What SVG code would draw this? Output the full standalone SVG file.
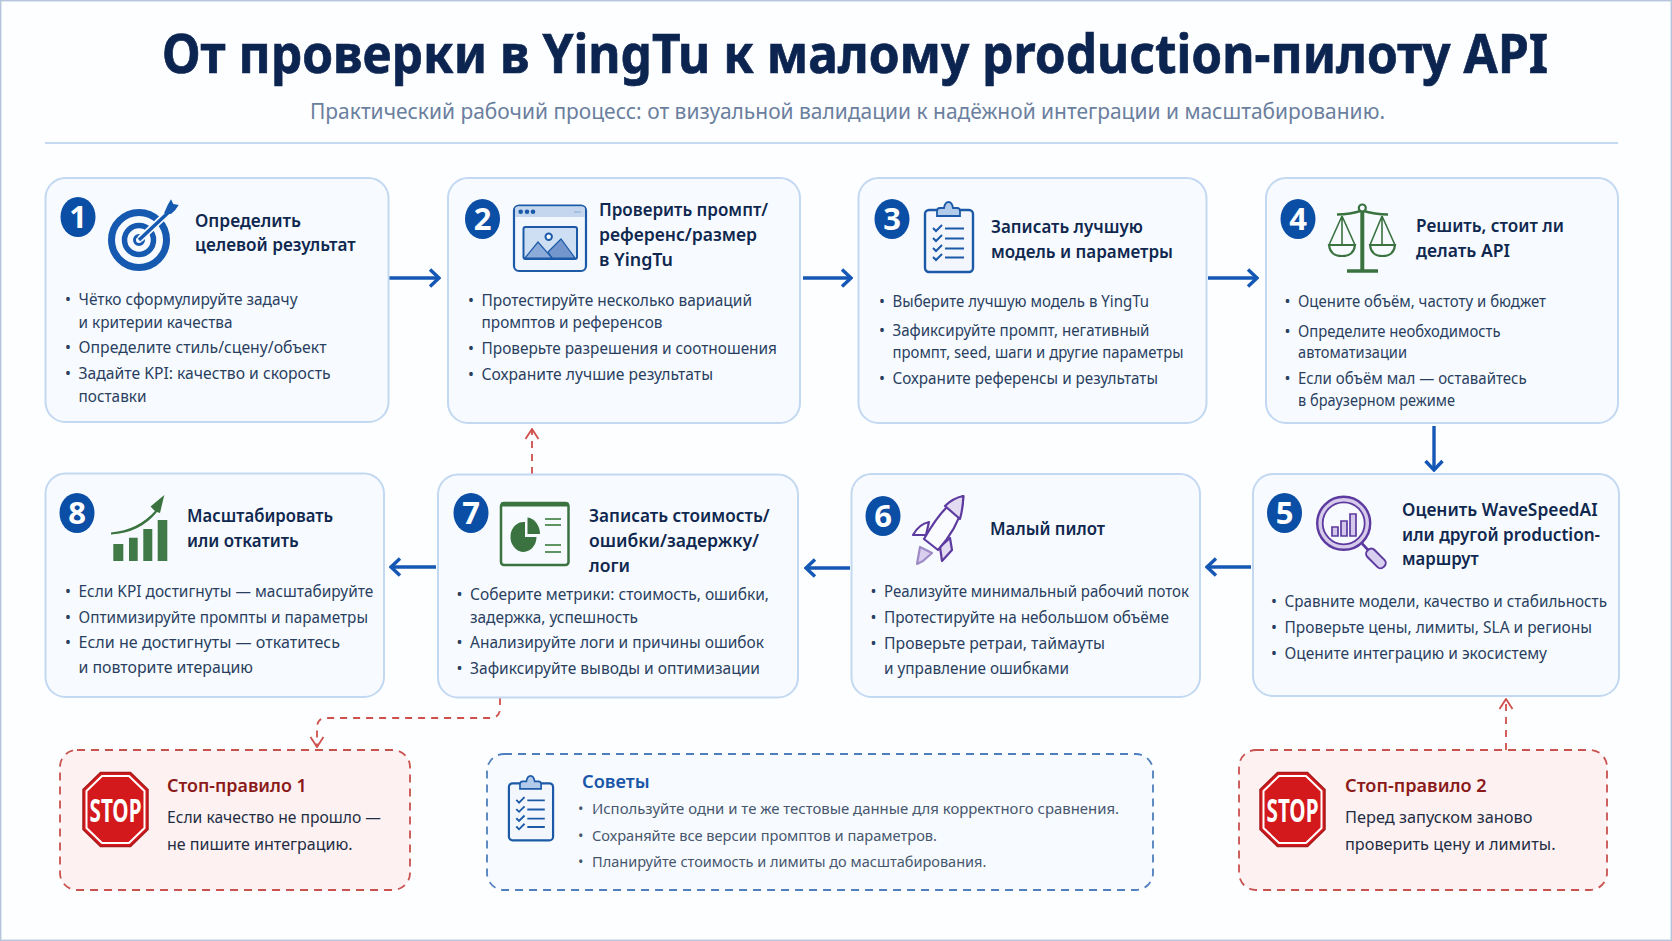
<svg xmlns="http://www.w3.org/2000/svg" width="1672" height="941" viewBox="0 0 1672 941">
<style>
text{font-family:"Noto Sans","Open Sans","Liberation Sans",sans-serif}
.card{fill:#f7fbff;stroke:#c3d8f1;stroke-width:2}
.badge{fill:#0b4ea6}
.num{fill:#fff;font-size:31px;font-weight:700;text-anchor:middle}
.h{fill:#10284f;font-size:18.5px;font-weight:600}
.b{fill:#2a3f5f;font-size:15.8px}
.st{fill:#8b1a1a;font-size:18.5px;font-weight:600}
.sb{fill:#1f2d45;font-size:16px}
.tt{fill:#1a56a8;font-size:18.5px;font-weight:600}
.tb{fill:#46566e;font-size:14.5px}
.stopbox{fill:#fdf2f1;stroke:#c9524f;stroke-width:1.8;stroke-dasharray:8 6}
.tipbox{fill:#f7fbff;stroke:#4f7fbd;stroke-width:1.8;stroke-dasharray:8 6}
.flow{fill:none;stroke:#1557b5;stroke-width:3.4}
.red{fill:none;stroke:#cf4f4c;stroke-width:1.8;stroke-dasharray:7 6}
.grn{fill:none;stroke:#3a7340;stroke-width:2.2}
</style>
<defs>
<marker id="ah" viewBox="0 0 14 20" refX="12" refY="10" markerWidth="14" markerHeight="20" markerUnits="userSpaceOnUse" orient="auto"><path d="M3 1.500 L12 10 L3 18.500" fill="none" stroke="#1557b5" stroke-width="3.400"/></marker>
<marker id="rh" viewBox="0 0 14 16" refX="13" refY="8" markerWidth="14" markerHeight="16" markerUnits="userSpaceOnUse" orient="auto"><path d="M3 1.500 L13 8 L3 14.500" fill="none" stroke="#cf4f4c" stroke-width="1.800"/></marker>
<g id="clip">
<rect x="1" y="9" width="48" height="62" rx="4" fill="#f3f7fd" stroke="#1c5aa8" stroke-width="2.400"/>
<path d="M13 15V10q0-3 3-3h4q1-6 4.500-6t4.500 6h4q3 0 3 3v5z" fill="#b3cbea" stroke="#1c5aa8" stroke-width="1.800"/>
<path d="M9 27l3 3 6-6M9 37l3 3 6-6M9 47l3 3 6-6M9 56l3 3 6-6" fill="none" stroke="#1c5aa8" stroke-width="2"/>
<path d="M21 27.500H40M21 37.500H40M21 47.500H40M21 56.500H40" fill="none" stroke="#1c5aa8" stroke-width="2"/>
</g>
<g id="stop">
<path d="M-15 -37H15L32.500 -20V20L15 37H-15L-32.500 20V-20Z" fill="#d3191c" stroke="#a81a1c" stroke-width="1.500"/>
<path d="M-13.500 -33.500H13.500L29 -18.500V18.500L13.500 33.500H-13.500L-29 18.500V-18.500Z" fill="none" stroke="#fff" stroke-width="2"/>
<text x="0" y="12" text-anchor="middle" fill="#fff" font-size="32" font-weight="700" textLength="52" lengthAdjust="spacingAndGlyphs">STOP</text>
</g>
</defs>
<rect width="1672" height="941" fill="#fdfeff"/>
<rect x="0.700" y="0.700" width="1670.600" height="939.600" fill="none" stroke="#b6c5dc" stroke-width="1.400"/>
<g id="header">
<text x="162" y="72.500" fill="#0c2450" stroke="#0c2450" stroke-width="0.700" font-size="53" font-weight="700" textLength="1386" lengthAdjust="spacingAndGlyphs">От проверки в YingTu к малому production-пилоту API</text>
<text x="310" y="119" fill="#6b7f9e" font-size="22.500" textLength="1075" lengthAdjust="spacingAndGlyphs">Практический рабочий процесс: от визуальной валидации к надёжной интеграции и масштабированию.</text>
<path d="M45 143H1618" stroke="#c5d9f0" stroke-width="1.800"/>
</g>
<g id="connectors">
<path class="flow" d="M389 278H439" marker-end="url(#ah)"/>
<path class="flow" d="M803 278H851" marker-end="url(#ah)"/>
<path class="flow" d="M1208 278H1257" marker-end="url(#ah)"/>
<path class="flow" d="M1434 426V470" marker-end="url(#ah)"/>
<path class="flow" d="M1251 567H1207" marker-end="url(#ah)"/>
<path class="flow" d="M850 568H806" marker-end="url(#ah)"/>
<path class="flow" d="M436 567H391" marker-end="url(#ah)"/>
<path class="red" d="M532 474V429" marker-end="url(#rh)"/>
<path class="red" d="M500 698V708Q500 718 490 718H326Q317 718 317 728V747" marker-end="url(#rh)"/>
<path class="red" d="M1506 750V699" marker-end="url(#rh)"/>
</g>
<g id="node-1">
<rect class="card" x="45.500" y="178" width="343" height="244" rx="20"/>
<ellipse class="badge" cx="78" cy="217" rx="17.500" ry="20"/><text class="num" x="78" y="228">1</text>
<g fill="none" stroke="#1559b0">
<circle cx="139" cy="240" r="27.500" stroke-width="7"/>
<circle cx="139" cy="240" r="14.500" stroke-width="5.500"/>
<circle cx="139" cy="240" r="4.500" stroke-width="3"/>
<path d="M140 239L173 208" stroke="#f7fbff" stroke-width="7"/>
<path d="M139 240L171 210" stroke-width="3.500"/>
</g>
<path d="M164 213.300L167.700 205L171 199.300L173.300 204L178.700 205L175.300 210L171 214Z" fill="#1559b0"/>
<text class="h" x="195" y="227" textLength="106" lengthAdjust="spacingAndGlyphs">Определить</text>
<text class="h" x="195" y="251" textLength="160.700" lengthAdjust="spacingAndGlyphs">целевой результат</text>
<text class="b" x="65" y="305">•</text><text class="b" x="78.500" y="305" textLength="219" lengthAdjust="spacingAndGlyphs">Чётко сформулируйте задачу</text>
<text class="b" x="78.500" y="328" textLength="154" lengthAdjust="spacingAndGlyphs">и критерии качества</text>
<text class="b" x="65" y="353">•</text><text class="b" x="78.500" y="353" textLength="248" lengthAdjust="spacingAndGlyphs">Определите стиль/сцену/объект</text>
<text class="b" x="65" y="379">•</text><text class="b" x="78.500" y="379" textLength="252" lengthAdjust="spacingAndGlyphs">Задайте KPI: качество и скорость</text>
<text class="b" x="78.500" y="402" textLength="68" lengthAdjust="spacingAndGlyphs">поставки</text>
</g>
<g id="node-2">
<rect class="card" x="448" y="178" width="352" height="245" rx="20"/>
<ellipse class="badge" cx="482.500" cy="219" rx="17.500" ry="20"/><text class="num" x="482.500" y="230">2</text>
<rect x="514" y="205.500" width="72" height="65.500" rx="5" fill="#f2f7fd" stroke="#1c5aa8" stroke-width="2.200"/>
<path d="M515 217V209q0-2.500 2.500-2.500h65q2.500 0 2.500 2.500v8z" fill="#c3d6ee"/>
<circle cx="520.700" cy="211.700" r="2.300" fill="#1c5aa8"/><circle cx="527" cy="211.700" r="2.300" fill="#1c5aa8"/><circle cx="533" cy="211.700" r="2.300" fill="#1c5aa8"/>
<path d="M574 212H581" stroke="#9db9de" stroke-width="1.500"/>
<rect x="523.500" y="227" width="53.500" height="32" rx="2" fill="#cfdff3" stroke="#1c5aa8" stroke-width="2"/>
<path d="M548 252L561 239L575 258H552Z" fill="#7397cc" stroke="#1c5aa8" stroke-width="1.200"/>
<path d="M525 258L538 242L552 258Z" fill="#8dabd8" stroke="#1c5aa8" stroke-width="1.200"/>
<circle cx="548.700" cy="236.700" r="3.200" fill="#fff" stroke="#1c5aa8" stroke-width="2"/>
<text class="h" x="599" y="216" textLength="169" lengthAdjust="spacingAndGlyphs">Проверить промпт/</text>
<text class="h" x="599" y="241" textLength="158" lengthAdjust="spacingAndGlyphs">референс/размер</text>
<text class="h" x="599" y="266" textLength="74" lengthAdjust="spacingAndGlyphs">в YingTu</text>
<text class="b" x="468" y="306">•</text><text class="b" x="481.500" y="306" textLength="270.500" lengthAdjust="spacingAndGlyphs">Протестируйте несколько вариаций</text>
<text class="b" x="481.500" y="328" textLength="181" lengthAdjust="spacingAndGlyphs">промптов и референсов</text>
<text class="b" x="468" y="354">•</text><text class="b" x="481.500" y="354" textLength="295.500" lengthAdjust="spacingAndGlyphs">Проверьте разрешения и соотношения</text>
<text class="b" x="468" y="380">•</text><text class="b" x="481.500" y="380" textLength="231.500" lengthAdjust="spacingAndGlyphs">Сохраните лучшие результаты</text>
</g>
<g id="node-3">
<rect class="card" x="858.500" y="178" width="348" height="245" rx="20"/>
<ellipse class="badge" cx="892" cy="219" rx="17.500" ry="20"/><text class="num" x="892" y="230">3</text>
<use href="#clip" transform="translate(924 201)"/>
<text class="h" x="991" y="233" textLength="152" lengthAdjust="spacingAndGlyphs">Записать лучшую</text>
<text class="h" x="991" y="258" textLength="182" lengthAdjust="spacingAndGlyphs">модель и параметры</text>
<text class="b" x="879" y="307">•</text><text class="b" x="892.500" y="307" textLength="256.500" lengthAdjust="spacingAndGlyphs">Выберите лучшую модель в YingTu</text>
<text class="b" x="879" y="336">•</text><text class="b" x="892.500" y="336" textLength="257" lengthAdjust="spacingAndGlyphs">Зафиксируйте промпт, негативный</text>
<text class="b" x="892.500" y="358" textLength="291" lengthAdjust="spacingAndGlyphs">промпт, seed, шаги и другие параметры</text>
<text class="b" x="879" y="384">•</text><text class="b" x="892.500" y="384" textLength="265.500" lengthAdjust="spacingAndGlyphs">Сохраните референсы и результаты</text>
</g>
<g id="node-4">
<rect class="card" x="1266" y="178" width="352" height="245" rx="20"/>
<ellipse class="badge" cx="1298" cy="219" rx="17.500" ry="20"/><text class="num" x="1298" y="230">4</text>
<g class="grn">
<path d="M1362.300 207V270" stroke-width="4"/><path d="M1347 271H1378" stroke-width="3.500"/>
<path d="M1337 214.500Q1350 214.500 1362 210.500Q1375 214.500 1388 214.500" stroke-width="2.600"/>
<circle cx="1362.300" cy="208" r="3.500" fill="#f7fbff"/>
<path d="M1342 216L1329 245M1342 216L1355 245M1342 216V245M1382 216L1370 245M1382 216L1395 245M1382 216V245" stroke-width="1.600"/>
<path d="M1329 245H1355Q1354 256 1342 256Q1330 256 1329 245ZM1370 245H1395Q1394 256 1382.500 256Q1371 256 1370 245Z"/>
</g>
<text class="h" x="1416" y="232" textLength="148" lengthAdjust="spacingAndGlyphs">Решить, стоит ли</text>
<text class="h" x="1416" y="257" textLength="94" lengthAdjust="spacingAndGlyphs">делать API</text>
<text class="b" x="1284.500" y="307">•</text><text class="b" x="1298" y="307" textLength="248" lengthAdjust="spacingAndGlyphs">Оцените объём, частоту и бюджет</text>
<text class="b" x="1284.500" y="337">•</text><text class="b" x="1298" y="337" textLength="202.500" lengthAdjust="spacingAndGlyphs">Определите необходимость</text>
<text class="b" x="1298" y="358" textLength="109" lengthAdjust="spacingAndGlyphs">автоматизации</text>
<text class="b" x="1284.500" y="384">•</text><text class="b" x="1298" y="384" textLength="228.700" lengthAdjust="spacingAndGlyphs">Если объём мал — оставайтесь</text>
<text class="b" x="1298" y="406" textLength="157" lengthAdjust="spacingAndGlyphs">в браузерном режиме</text>
</g>
<g id="node-5">
<rect class="card" x="1253" y="474" width="366" height="222" rx="20"/>
<ellipse class="badge" cx="1284.500" cy="513" rx="17.500" ry="20"/><text class="num" x="1284.500" y="524">5</text>
<circle cx="1343.700" cy="523.300" r="24" fill="#f7fbff" stroke="#d7cbec" stroke-width="6"/>
<circle cx="1343.700" cy="523.300" r="26.500" fill="none" stroke="#5d3a9f" stroke-width="2.400"/>
<circle cx="1343.700" cy="523.300" r="21" fill="none" stroke="#5d3a9f" stroke-width="1.800"/>
<path d="M1332 536V527h6v9zM1341 536V521h6v15zM1350 536V514h6v22z" fill="#d4c8ea" stroke="#5d3a9f" stroke-width="1.700"/>
<path d="M1362 543.500L1369 551" stroke="#5d3a9f" stroke-width="2.600"/>
<rect x="-5" y="-1" width="10" height="23" rx="4.500" transform="translate(1368.500 551) rotate(-45)" fill="#d9cfee" stroke="#5d3a9f" stroke-width="2"/>
<text class="h" x="1402" y="516" textLength="195.600" lengthAdjust="spacingAndGlyphs">Оценить WaveSpeedAI</text>
<text class="h" x="1402" y="541" textLength="198" lengthAdjust="spacingAndGlyphs">или другой production-</text>
<text class="h" x="1402" y="565" textLength="76.700" lengthAdjust="spacingAndGlyphs">маршрут</text>
<text class="b" x="1271" y="607">•</text><text class="b" x="1284.500" y="607" textLength="322.500" lengthAdjust="spacingAndGlyphs">Сравните модели, качество и стабильность</text>
<text class="b" x="1271" y="633">•</text><text class="b" x="1284.500" y="633" textLength="307.500" lengthAdjust="spacingAndGlyphs">Проверьте цены, лимиты, SLA и регионы</text>
<text class="b" x="1271" y="659">•</text><text class="b" x="1284.500" y="659" textLength="262.500" lengthAdjust="spacingAndGlyphs">Оцените интеграцию и экосистему</text>
</g>
<g id="node-6">
<rect class="card" x="851.500" y="474" width="348.500" height="223" rx="20"/>
<ellipse class="badge" cx="883" cy="516" rx="17.500" ry="20"/><text class="num" x="883" y="527">6</text>
<g fill="#f9fbff" stroke="#5d3a9f" stroke-width="2.200" stroke-linejoin="round">
<path d="M929 522Q919 524 913 535L926 535Z"/>
<path d="M950 538L952 550L942 561L940 547Z" fill="#e3dbf2"/>
<path d="M920 547L917 564L923 561L932 553Z" fill="#d9cfee" stroke="#9f8ac8"/>
<path d="M963.300 496Q945 502 924 539L938 550Q963 522 963.300 496Z"/>
<path d="M945 506Q953 498 963.300 496Q963 508 960 519Z" fill="#e3dbf2"/>
</g>
<text class="h" x="990" y="535" textLength="115" lengthAdjust="spacingAndGlyphs">Малый пилот</text>
<text class="b" x="870.500" y="597">•</text><text class="b" x="884" y="597" textLength="305" lengthAdjust="spacingAndGlyphs">Реализуйте минимальный рабочий поток</text>
<text class="b" x="870.500" y="623">•</text><text class="b" x="884" y="623" textLength="285" lengthAdjust="spacingAndGlyphs">Протестируйте на небольшом объёме</text>
<text class="b" x="870.500" y="649">•</text><text class="b" x="884" y="649" textLength="221" lengthAdjust="spacingAndGlyphs">Проверьте ретраи, таймауты</text>
<text class="b" x="884" y="674" textLength="185" lengthAdjust="spacingAndGlyphs">и управление ошибками</text>
</g>
<g id="node-7">
<rect class="card" x="438" y="474.500" width="360" height="223" rx="20"/>
<ellipse class="badge" cx="471" cy="513" rx="17.500" ry="20"/><text class="num" x="471" y="524">7</text>
<rect x="501" y="503" width="67.500" height="62" rx="3" fill="#f7fbff" stroke="#3a7340" stroke-width="2.500"/>
<path d="M501 504.500H568.500" stroke="#3a7340" stroke-width="4"/>
<path d="M525 522A13 15 0 1 0 536.500 537H525Z" fill="#3a7340"/>
<path d="M527.500 517.500A14 16.500 0 0 1 540 534H527.500Z" fill="#3a7340"/>
<path d="M545 519H561M545 525H561M545 545H561M545 552H561" stroke="#5f9463" stroke-width="2.200"/>
<text class="h" x="589" y="522" textLength="180.600" lengthAdjust="spacingAndGlyphs">Записать стоимость/</text>
<text class="h" x="589" y="547" textLength="170" lengthAdjust="spacingAndGlyphs">ошибки/задержку/</text>
<text class="h" x="589" y="572" textLength="41" lengthAdjust="spacingAndGlyphs">логи</text>
<text class="b" x="456.500" y="600">•</text><text class="b" x="470" y="600" textLength="299" lengthAdjust="spacingAndGlyphs">Соберите метрики: стоимость, ошибки,</text>
<text class="b" x="470" y="623" textLength="168" lengthAdjust="spacingAndGlyphs">задержка, успешность</text>
<text class="b" x="456.500" y="648">•</text><text class="b" x="470" y="648" textLength="294" lengthAdjust="spacingAndGlyphs">Анализируйте логи и причины ошибок</text>
<text class="b" x="456.500" y="674">•</text><text class="b" x="470" y="674" textLength="290" lengthAdjust="spacingAndGlyphs">Зафиксируйте выводы и оптимизации</text>
</g>
<g id="node-8">
<rect class="card" x="45.500" y="473.500" width="338.500" height="223.500" rx="20"/>
<ellipse class="badge" cx="77" cy="513" rx="17.500" ry="20"/><text class="num" x="77" y="524">8</text>
<path d="M113.300 561V544H123.300V561ZM129 561V537.700H137.700V561ZM143.300 561V529H152.300V561ZM157.700 561V520H167.300V561Z" fill="#3f7a47"/>
<path d="M111 532.500Q138 530 155 511L150.500 506.500L164.300 495L160 513L157 512Q140 533 111 534.500Z" fill="#3a7340"/>
<text class="h" x="187" y="522" textLength="146" lengthAdjust="spacingAndGlyphs">Масштабировать</text>
<text class="h" x="187" y="547" textLength="111.700" lengthAdjust="spacingAndGlyphs">или откатить</text>
<text class="b" x="65" y="597">•</text><text class="b" x="78.500" y="597" textLength="294.800" lengthAdjust="spacingAndGlyphs">Если KPI достигнуты — масштабируйте</text>
<text class="b" x="65" y="623">•</text><text class="b" x="78.500" y="623" textLength="289.500" lengthAdjust="spacingAndGlyphs">Оптимизируйте промпты и параметры</text>
<text class="b" x="65" y="648">•</text><text class="b" x="78.500" y="648" textLength="261.500" lengthAdjust="spacingAndGlyphs">Если не достигнуты — откатитесь</text>
<text class="b" x="78.500" y="673" textLength="174.500" lengthAdjust="spacingAndGlyphs">и повторите итерацию</text>
</g>
<g id="stop-1">
<rect class="stopbox" x="60" y="750" width="350" height="140" rx="17"/>
<use href="#stop" transform="translate(115.500 809.500)"/>
<text class="st" x="167" y="792" textLength="139.700" lengthAdjust="spacingAndGlyphs">Стоп-правило 1</text>
<text class="sb" x="167" y="823" textLength="214" lengthAdjust="spacingAndGlyphs">Если качество не прошло —</text>
<text class="sb" x="167" y="850" textLength="185.500" lengthAdjust="spacingAndGlyphs">не пишите интеграцию.</text>
</g>
<g id="tips">
<rect class="tipbox" x="487" y="754" width="666" height="136" rx="17"/>
<use href="#clip" transform="translate(508 775) scale(.92)"/>
<text class="tt" x="582" y="788" textLength="67.600" lengthAdjust="spacingAndGlyphs">Советы</text>
<text class="tb" x="578" y="814">•</text><text class="tb" x="592" y="814" textLength="527" lengthAdjust="spacingAndGlyphs">Используйте одни и те же тестовые данные для корректного сравнения.</text>
<text class="tb" x="578" y="841">•</text><text class="tb" x="592" y="841" textLength="345" lengthAdjust="spacingAndGlyphs">Сохраняйте все версии промптов и параметров.</text>
<text class="tb" x="578" y="867">•</text><text class="tb" x="592" y="867" textLength="394.400" lengthAdjust="spacingAndGlyphs">Планируйте стоимость и лимиты до масштабирования.</text>
</g>
<g id="stop-2">
<rect class="stopbox" x="1239" y="750" width="368" height="140" rx="17"/>
<use href="#stop" transform="translate(1292.500 809.500)"/>
<text class="st" x="1345" y="792" textLength="141.700" lengthAdjust="spacingAndGlyphs">Стоп-правило 2</text>
<text class="sb" x="1345" y="823" textLength="187.500" lengthAdjust="spacingAndGlyphs">Перед запуском заново</text>
<text class="sb" x="1345" y="850" textLength="210.500" lengthAdjust="spacingAndGlyphs">проверить цену и лимиты.</text>
</g>
</svg>
